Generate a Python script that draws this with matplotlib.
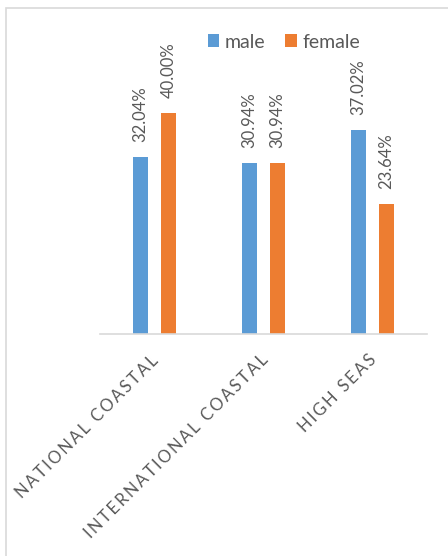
import matplotlib
matplotlib.use("Agg")
import matplotlib.pyplot as plt
from matplotlib.patches import Rectangle, Patch
import numpy as np

categories = ["NATIONAL COASTAL", "INTERNATIONAL COASTAL", "HIGH SEAS"]
series_names = ["male", "female"]
male = [32.04, 30.94, 37.02]
female = [40.00, 30.94, 23.64]
colors = ["#5B9BD5", "#ED7D31"]

plt.rcParams['font.family'] = ['Lato', 'DejaVu Sans']
TXT = "#595959"

W, H = 448, 556
fig = plt.figure(figsize=(W / 100, H / 100), dpi=100)

# outer chart border
fig.patches.append(Rectangle((6 / W, -0.1), 1.2, 1 - 7.5 / H + 0.1, transform=fig.transFigure,
                             fill=False, edgecolor="#D9D9D9", linewidth=1.2))

ax = fig.add_axes([100 / W, 1 - 334 / H, 327 / W, 276 / H])
ax.set_xlim(-0.5, 2.5)
ax.set_ylim(0, 50)

x = np.arange(len(categories))
bw = 0.133
off = 0.128
for vals, c, sgn in [(male, colors[0], -1), (female, colors[1], 1)]:
    ax.bar(x + sgn * off, vals, width=bw, color=c, zorder=2)
    for xi, v in zip(x + sgn * off, vals):
        ax.annotate(f"{v:.2f}%", (xi, v), xytext=(0, 15), textcoords="offset pixels",
                    rotation=90, ha="center", va="bottom", fontsize=12, color=TXT)

for s in ["top", "right", "left"]:
    ax.spines[s].set_visible(False)
ax.spines["bottom"].set_color("#D9D9D9")
ax.spines["bottom"].set_linewidth(1.2)
ax.set_yticks([])
ax.set_xticks([])

for xi, cat in zip(x, categories):
    spaced = "\u2009".join(cat)
    ax.annotate(spaced, (xi, 0), xytext=(-4, -18), textcoords="offset pixels",
                rotation=45, rotation_mode="anchor", ha="right", va="top",
                fontsize=12, color=TXT)

handles = [Patch(facecolor=c, edgecolor="none") for c in colors]
fig.legend(handles, series_names, loc="center", bbox_to_anchor=(284 / W, 1 - 42 / H),
           ncol=2, frameon=False, fontsize=14, handlelength=0.6, handleheight=0.6,
           handletextpad=0.3, columnspacing=1.0, labelcolor=TXT)

fig.savefig("out.png", dpi=100)
